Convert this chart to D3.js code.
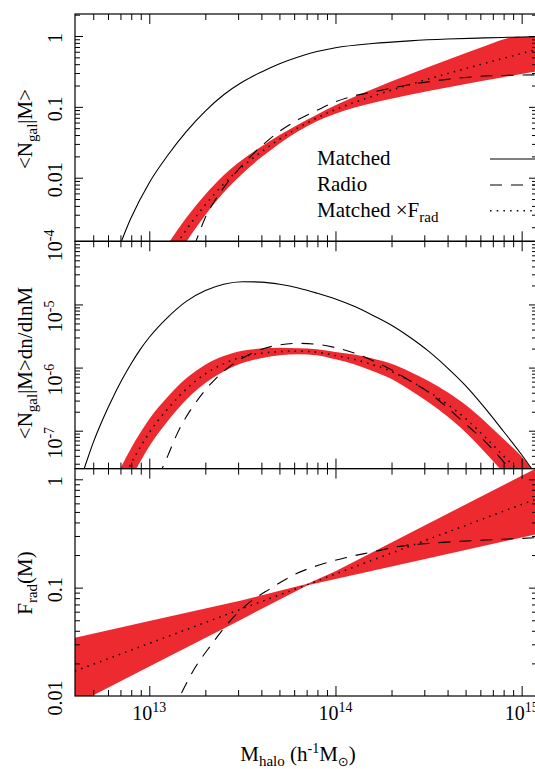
<!DOCTYPE html>
<html><head><meta charset="utf-8">
<script src="https://cdn.jsdelivr.net/npm/d3@7"></script>
<style>
html,body{margin:0;padding:0;background:#fff;}
svg{display:block;font-family:"Liberation Serif","Times New Roman",Times,serif;}
</style></head><body>
<svg id="chart" width="535" height="769"></svg>
<script>
// ---------------- DATA ----------------
// Top panel: <N_gal|M>
const massTop = [6.31e12, 7.94e12, 1.00e13, 1.26e13, 1.58e13, 2.00e13, 2.51e13, 3.16e13, 3.98e13, 5.01e13, 6.31e13, 7.94e13, 1.00e14, 1.58e14, 2.51e14, 3.98e14, 6.31e14, 7.94e14, 8.91e14, 1.00e15, 1.26e15];
const matchedTop = [5.62e-4, 2.63e-3, 8.51e-3, 0.0209, 0.0447, 0.0871, 0.148, 0.224, 0.309, 0.407, 0.507, 0.603, 0.684, 0.785, 0.855, 0.906, 0.940, 0.955, 0.962, 0.968, 0.979];
const matchedFradTop = [1.28e-5, 6.95e-5, 2.61e-4, 7.41e-4, 1.84e-3, 4.15e-3, 8.17e-3, 0.0143, 0.0229, 0.0350, 0.0506, 0.0697, 0.0916, 0.141, 0.207, 0.294, 0.410, 0.483, 0.524, 0.568, 0.665];
const bandTopUpper = [2.37e-5, 1.21e-4, 4.30e-4, 1.16e-3, 2.71e-3, 5.79e-3, 0.0108, 0.0179, 0.0274, 0.0401, 0.0564, 0.0776, 0.105, 0.177, 0.288, 0.458, 0.716, 0.891, 0.962, 0.968, 0.979];
const bandTopLower = [6.95e-6, 3.98e-5, 1.58e-4, 4.75e-4, 1.24e-3, 2.97e-3, 6.18e-3, 0.0114, 0.0192, 0.0305, 0.0454, 0.0625, 0.0800, 0.113, 0.148, 0.188, 0.235, 0.262, 0.275, 0.290, 0.321];
const massRadioTop = [1.58e13, 1.78e13, 2.00e13, 2.24e13, 2.51e13, 3.16e13, 3.98e13, 5.01e13, 6.31e13, 7.94e13, 1.00e14, 1.26e14, 1.58e14, 2.51e14, 3.98e14, 6.31e14, 1.00e15, 1.26e15];
const radioTop = [5.62e-4, 1.26e-3, 2.75e-3, 4.68e-3, 7.24e-3, 0.0151, 0.0275, 0.0452, 0.0661, 0.0891, 0.118, 0.143, 0.162, 0.206, 0.244, 0.272, 0.281, 0.283];

// Middle panel: <N_gal|M> dn/dlnM
const massMid = [3.98e12, 4.47e12, 5.01e12, 5.62e12, 6.31e12, 7.08e12, 7.94e12, 8.91e12, 1.00e13, 1.26e13, 1.58e13, 2.00e13, 2.51e13, 3.16e13, 3.98e13, 5.01e13, 6.31e13, 7.94e13, 1.00e14, 1.26e14, 1.58e14, 2.00e14, 2.51e14, 3.16e14, 3.98e14, 5.01e14, 6.31e14, 7.94e14, 1.00e15, 1.26e15];
const matchedMid = [8.91e-9, 2.51e-8, 6.61e-8, 1.51e-7, 3.16e-7, 6.17e-7, 1.12e-6, 1.91e-6, 3.02e-6, 6.31e-6, 1.12e-5, 1.66e-5, 2.09e-5, 2.29e-5, 2.26e-5, 2.09e-5, 1.82e-5, 1.51e-5, 1.22e-5, 9.33e-6, 6.76e-6, 4.68e-6, 3.02e-6, 1.82e-6, 1.00e-6, 5.13e-7, 2.34e-7, 1.00e-7, 4.17e-8, 1.58e-8];
const massMidBand = [6.31e12, 7.08e12, 7.94e12, 8.91e12, 1.00e13, 1.26e13, 1.58e13, 2.00e13, 2.51e13, 3.16e13, 3.98e13, 5.01e13, 6.31e13, 7.94e13, 1.00e14, 1.26e14, 1.58e14, 2.00e14, 2.51e14, 3.16e14, 3.98e14, 5.01e14, 6.31e14, 7.94e14, 8.91e14, 1.00e15, 1.12e15];
const matchedFradMid = [7.24e-9, 1.51e-8, 2.95e-8, 5.37e-8, 9.33e-8, 2.24e-7, 4.57e-7, 7.94e-7, 1.15e-6, 1.48e-6, 1.68e-6, 1.79e-6, 1.82e-6, 1.75e-6, 1.55e-6, 1.35e-6, 1.11e-6, 8.71e-7, 6.17e-7, 4.17e-7, 2.63e-7, 1.55e-7, 8.13e-8, 4.07e-8, 2.88e-8, 2.00e-8, 1.32e-8];
const bandMidUpper = [1.34e-8, 2.72e-8, 5.15e-8, 9.10e-8, 1.54e-7, 3.49e-7, 6.75e-7, 1.11e-6, 1.52e-6, 1.85e-6, 2.00e-6, 2.06e-6, 2.02e-6, 1.95e-6, 1.77e-6, 1.61e-6, 1.39e-6, 1.15e-6, 8.61e-7, 6.15e-7, 4.10e-7, 2.55e-7, 1.42e-7, 7.52e-8, 5.48e-8, 3.90e-8, 2.57e-8];
const bandMidLower = [3.93e-9, 8.43e-9, 1.69e-8, 3.17e-8, 5.66e-8, 1.44e-7, 3.10e-7, 5.69e-7, 8.69e-7, 1.18e-6, 1.41e-6, 1.57e-6, 1.63e-6, 1.57e-6, 1.35e-6, 1.13e-6, 8.85e-7, 6.59e-7, 4.42e-7, 2.82e-7, 1.69e-7, 9.40e-8, 4.66e-8, 2.21e-8, 1.52e-8, 1.02e-8, 6.55e-9];
const massRadioMid = [1.12e13, 1.26e13, 1.41e13, 1.58e13, 1.78e13, 2.00e13, 2.51e13, 3.16e13, 3.98e13, 5.01e13, 6.31e13, 7.94e13, 1.00e14, 1.26e14, 1.58e14, 2.00e14, 2.51e14, 3.16e14, 3.98e14, 5.01e14, 6.31e14, 7.94e14, 8.91e14, 1.00e15];
const radioMid = [1.86e-8, 4.07e-8, 8.91e-8, 1.66e-7, 2.82e-7, 4.42e-7, 8.71e-7, 1.41e-6, 1.93e-6, 2.29e-6, 2.42e-6, 2.34e-6, 2.07e-6, 1.70e-6, 1.29e-6, 9.23e-7, 6.17e-7, 4.07e-7, 2.34e-7, 1.27e-7, 6.92e-8, 3.31e-8, 2.24e-8, 1.51e-8];

// Bottom panel: F_rad(M)
const massBot = [3.98e12, 1.00e13, 3.16e13, 7.08e13, 1.00e14, 3.16e14, 1.00e15, 1.26e15];
const fradBot = [0.0170, 0.0306, 0.0640, 0.107, 0.134, 0.280, 0.586, 0.679];
const bandBotUpper = [0.0345, 0.0492, 0.0767, 0.1085, 0.142, 0.391, 1.08, 1.32];
const bandBotLower = [0.0083, 0.0187, 0.0515, 0.1055, 0.120, 0.187, 0.291, 0.318];
const massRadioBot = [1.32e13, 1.46e13, 1.76e13, 2.16e13, 2.66e13, 3.40e13, 4.46e13, 6.07e13, 8.09e13, 1.13e14, 1.57e14, 2.18e14, 3.03e14, 4.57e14, 6.92e14, 1.18e15, 1.26e15];
const radioBot = [0.0072, 0.0100, 0.0182, 0.0299, 0.0474, 0.0716, 0.0977, 0.133, 0.161, 0.189, 0.213, 0.240, 0.255, 0.267, 0.277, 0.289, 0.291];

// Tick labels
const xTickValues = [1e13, 1e14, 1e15];
const xTickExponents = ["13", "14", "15"];
const topTickValues = [1, 0.1, 0.01];
const topTickLabels = ["1", "0.1", "0.01"];
const midTickValues = [1e-4, 1e-5, 1e-6, 1e-7];
const midTickExponents = ["-4", "-5", "-6", "-7"];
const botTickValues = [1, 0.1, 0.01];
const botTickLabels = ["1", "0.1", "0.01"];
const legendLabels = ["Matched", "Radio", "Matched \u00D7F"];

// ---------------- DRAWING ----------------
const RED = "#ec2a30";
const svg = d3.select("#chart");
const xLeft = 75, xRight = 537;
const x = d3.scaleLog().domain([3.99e12, 1.209e15]).range([xLeft, xRight]);

const panels = [
  {y0: 14, y1: 241.3, domain: [1.265e-3, 2.045]},
  {y0: 241.3, y1: 468.6, domain: [2.512e-8, 1e-4]},
  {y0: 468.6, y1: 696, domain: [0.01, 1.2556]}
];
panels.forEach((p, i) => {
  p.y = d3.scaleLog().domain(p.domain).range([p.y1, p.y0]);
  p.clip = "clip" + i;
  svg.append("clipPath").attr("id", p.clip).append("rect")
    .attr("x", xLeft).attr("y", p.y0).attr("width", xRight - xLeft).attr("height", p.y1 - p.y0);
  p.g = svg.append("g").attr("clip-path", `url(#${p.clip})`);
});

function band(p, mass, lo, hi, curve) {
  const data = mass.map((m, i) => ({m, lo: lo[i], hi: hi[i]}));
  p.g.append("path").datum(data)
    .attr("d", d3.area().x(d => x(d.m)).y0(d => p.y(d.lo)).y1(d => p.y(d.hi)).curve(curve))
    .attr("fill", RED).attr("stroke", "none");
}
const styles = {
  solid: {w: 1.1, dash: null},
  dashed: {w: 1.1, dash: "12,9"},
  dotted: {w: 1.5, dash: "1.5,5.2"}
};
function line(p, mass, vals, style, curve) {
  const data = mass.map((m, i) => ({m, v: vals[i]}));
  const s = styles[style];
  p.g.append("path").datum(data)
    .attr("d", d3.line().x(d => x(d.m)).y(d => p.y(d.v)).curve(curve))
    .attr("fill", "none").attr("stroke", "#000").attr("stroke-width", s.w)
    .attr("stroke-dasharray", s.dash);
}
const smooth = d3.curveMonotoneX, straight = d3.curveLinear;

// top
band(panels[0], massTop, bandTopLower, bandTopUpper, smooth);
line(panels[0], massTop, matchedFradTop, "dotted", smooth);
line(panels[0], massTop, matchedTop, "solid", smooth);
line(panels[0], massRadioTop, radioTop, "dashed", smooth);
// middle
band(panels[1], massMidBand, bandMidLower, bandMidUpper, smooth);
line(panels[1], massMidBand, matchedFradMid, "dotted", smooth);
line(panels[1], massMid, matchedMid, "solid", smooth);
line(panels[1], massRadioMid, radioMid, "dashed", smooth);
// bottom
band(panels[2], massBot, bandBotLower, bandBotUpper, straight);
line(panels[2], massBot, fradBot, "dotted", straight);
line(panels[2], massRadioBot, radioBot, "dashed", smooth);

// ticks
function decadeTicks(domain) {
  const lo = Math.floor(Math.log10(domain[0])), hi = Math.ceil(Math.log10(domain[1]));
  const major = [], minor = [];
  for (let d = lo; d <= hi; d++) for (let k = 1; k <= 9; k++) {
    const v = k * Math.pow(10, d);
    if (v > domain[0] * 1.003 && v < domain[1] / 1.003) (k === 1 ? major : minor).push(v);
  }
  return {major, minor};
}
function ticks(axisGen, scale, values, size, tr) {
  const a = svg.append("g").attr("transform", tr)
    .call(axisGen(scale).tickValues(values).tickSize(size).tickFormat(""));
  a.select(".domain").remove();
  a.selectAll("line").attr("stroke", "#000").attr("stroke-width", 1);
}
const xt = decadeTicks(x.domain());
panels.forEach(p => {
  ticks(d3.axisBottom, x, xt.major, -10, `translate(0,${p.y1})`);
  ticks(d3.axisBottom, x, xt.minor, -6, `translate(0,${p.y1})`);
  ticks(d3.axisTop, x, xt.major, -10, `translate(0,${p.y0})`);
  ticks(d3.axisTop, x, xt.minor, -6, `translate(0,${p.y0})`);
  const yt = decadeTicks(p.domain);
  ticks(d3.axisLeft, p.y, yt.major, -8, `translate(${xLeft},0)`);
  ticks(d3.axisLeft, p.y, yt.minor, -5, `translate(${xLeft},0)`);
  ticks(d3.axisRight, p.y, yt.major, -8, `translate(${xRight},0)`);
  ticks(d3.axisRight, p.y, yt.minor, -5, `translate(${xRight},0)`);
  svg.append("rect").attr("x", xLeft).attr("y", p.y0).attr("width", xRight - xLeft)
    .attr("height", p.y1 - p.y0).attr("fill", "none").attr("stroke", "#000").attr("stroke-width", 1.2);
});

// x tick labels
xTickValues.forEach((v, i) => {
  const t = svg.append("text").attr("x", x(v)).attr("y", 720).attr("text-anchor", "middle")
    .attr("font-size", 20).attr("fill", "#000");
  t.append("tspan").text("10");
  t.append("tspan").attr("font-size", 14).attr("dy", -8).text(xTickExponents[i]);
});

// y tick labels (rotated)
function yLabel(p, v, build, off) {
  const g = svg.append("g").attr("transform", `translate(62,${p.y(v) + off}) rotate(-90)`);
  const t = g.append("text").attr("text-anchor", "middle").attr("font-size", 20).attr("fill", "#000");
  build(t);
}
topTickValues.forEach((v, i) => yLabel(panels[0], v, t => t.text(topTickLabels[i]), 2));
botTickValues.forEach((v, i) => yLabel(panels[2], v, t => t.text(botTickLabels[i]), 2));
midTickValues.forEach((v, i) => yLabel(panels[1], v, t => {
  t.append("tspan").text("10");
  t.append("tspan").attr("font-size", 14).attr("dy", -8).text(midTickExponents[i]);
}, i === 0 ? 4 : 12));

// axis titles
function yTitle(cy, build) {
  const g = svg.append("g").attr("transform", `translate(32,${cy}) rotate(-90)`);
  const t = g.append("text").attr("text-anchor", "middle").attr("font-size", 21).attr("fill", "#000");
  build(t);
}
yTitle(129, t => {
  t.append("tspan").text("<N");
  t.append("tspan").attr("font-size", 15).attr("dy", 5).text("gal");
  t.append("tspan").attr("dy", -5).text("|M>");
});
yTitle(363, t => {
  t.append("tspan").text("<N");
  t.append("tspan").attr("font-size", 15).attr("dy", 5).text("gal");
  t.append("tspan").attr("dy", -5).text("|M>dn/dlnM");
});
yTitle(583, t => {
  t.append("tspan").text("F");
  t.append("tspan").attr("font-size", 15).attr("dy", 5).text("rad");
  t.append("tspan").attr("dy", -5).text("(M)");
});
{
  const t = svg.append("text").attr("x", 298).attr("y", 761).attr("text-anchor", "middle")
    .attr("font-size", 21).attr("fill", "#000");
  t.append("tspan").text("M");
  t.append("tspan").attr("font-size", 15).attr("dy", 5).text("halo");
  t.append("tspan").attr("dy", -5).text(" (h");
  t.append("tspan").attr("font-size", 14).attr("dy", -8).text("-1");
  t.append("tspan").attr("dy", 8).text("M");
  t.append("tspan").attr("font-size", 13).attr("dy", 5).attr("font-family", "DejaVu Sans").text("\u2299");
  t.append("tspan").attr("dy", -5).text(")");
}

// legend
const legY = [165, 191, 216.7];
const legStyle = ["solid", "dashed", "dotted"];
legendLabels.forEach((lab, i) => {
  const t = svg.append("text").attr("x", 317).attr("y", legY[i]).attr("font-size", 21).attr("fill", "#000");
  t.append("tspan").text(lab);
  if (i === 2) t.append("tspan").attr("font-size", 15).attr("dy", 5).text("rad");
  const s = styles[legStyle[i]];
  svg.append("line").attr("x1", 490).attr("x2", 537).attr("y1", legY[i] - 6).attr("y2", legY[i] - 6)
    .attr("stroke", "#000").attr("stroke-width", s.w).attr("stroke-dasharray", s.dash);
});
</script>
</body></html>
